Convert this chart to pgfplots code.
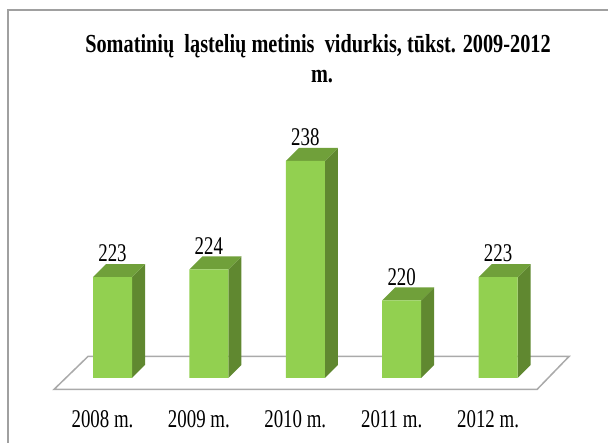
\documentclass[border=0pt]{standalone}
\usepackage{pgfplots}
\usepackage{pgfplotstable}
\pgfplotsset{compat=1.18}
\usepackage{fontspec}
\setmainfont{Liberation Serif}[FakeStretch=0.76]
\newfontfamily\titlefont{Liberation Serif}[FakeStretch=0.78]
\newfontfamily\labfont{Liberation Serif}[FakeStretch=0.74]
\definecolor{frontc}{RGB}{146,208,80}
\definecolor{sidec}{RGB}{96,136,48}
\definecolor{topc}{RGB}{112,160,58}
\definecolor{floorc}{RGB}{170,170,170}
\definecolor{borderc}{RGB}{160,160,160}

\pgfplotstableread{
idx value
0 223
1 224
2 238
3 220
4 223
}\datatable

\newcommand\barfaces[2]{%
  \pgfmathsetmacro\xr{#1+0.2023}%
  \pgfmathsetmacro\xl{#1-0.2023}%
  \pgfmathsetmacro\xrb{#1+0.3372}%
  \pgfmathsetmacro\xlb{#1-0.0674}%
  \pgfmathsetmacro\vv{#2-210}%
  \pgfmathsetmacro\vb{#2-210+1.677}%
  \edef\tmp{\noexpand\addplot[fill=sidec,draw=none] coordinates {(\xr,0) (\xrb,1.677) (\xrb,\vb) (\xr,\vv)} -- cycle;
  \noexpand\addplot[fill=topc,draw=none] coordinates {(\xl,\vv) (\xr,\vv) (\xrb,\vb) (\xlb,\vb)} -- cycle;}%
  \tmp}

\begin{document}
\begin{tikzpicture}
\path[use as bounding box] (0,0) rectangle (608pt,443pt);
\draw[borderc, line width=1.5pt] (8pt,0pt) -- (8pt,433pt) -- (608pt,433pt);
\node[anchor=base, font=\titlefont\bfseries\fontsize{26}{30}\selectfont] at (318pt,390pt) {Somatinių\ \ ląstelių metinis\ \ vidurkis, tūkst. 2009-2012};
\node[anchor=base, font=\titlefont\bfseries\fontsize{26}{30}\selectfont] at (322pt,360pt) {m.};
\begin{axis}[
  at={(0pt,0pt)}, anchor=south west,
  scale only axis, width=608pt, height=443pt,
  xmin=-1.167, xmax=5.140, ymin=-8.39, ymax=48.77,
  clip=false,
  axis line style={draw=none}, tick style={draw=none},
  ytick=\empty,
  xtick={0,1,2,3,4},
  xticklabels={2008 m.,2009 m.,2010 m.,2011 m.,2012 m.},
  xticklabel style={font=\labfont\fontsize{25.5}{28}\selectfont, anchor=base, yshift=15pt, xshift=-10pt, inner sep=0pt},
  /pgf/number format/assume math mode=true,
]
\draw[floorc, line width=1.5pt, fill=white] (axis cs:-0.254,2.78) -- (axis cs:4.736,2.78) -- (axis cs:4.404,-1.48) -- (axis cs:-0.607,-1.48) -- cycle;
\barfaces{0}{223}
\barfaces{1}{224}
\barfaces{2}{238}
\barfaces{3}{220}
\barfaces{4}{223}
\addplot[ybar, bar width=39pt, bar shift=0pt, fill=frontc, draw=none,
  point meta=explicit,
  nodes near coords,
  every node near coord/.append style={font=\labfont\fontsize{25.5}{28}\selectfont, inner sep=0pt, yshift=15pt, anchor=south}]
  table[x=idx, y expr=\thisrow{value}-210, meta=value]{\datatable};
\end{axis}
\end{tikzpicture}
\end{document}
